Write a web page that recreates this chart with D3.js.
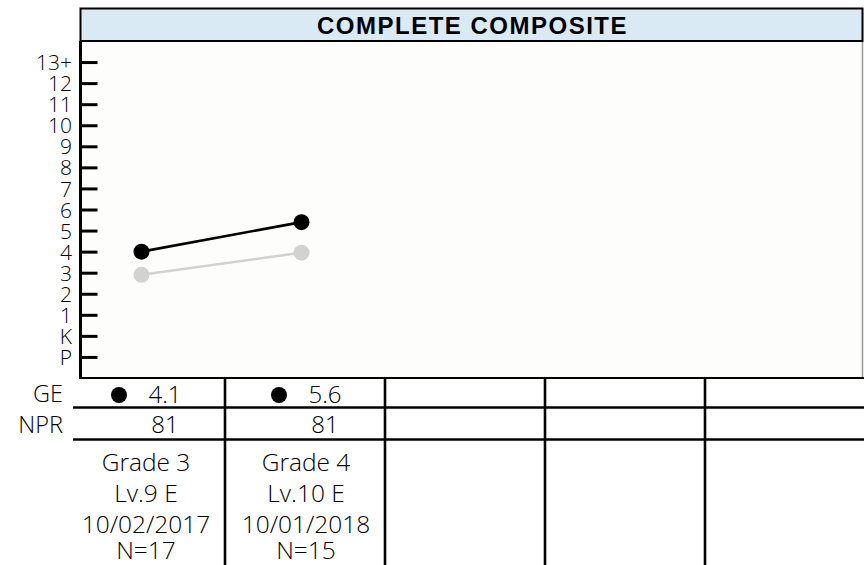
<!DOCTYPE html>
<html>
<head>
<meta charset="utf-8">
<script src="https://cdn.jsdelivr.net/npm/d3@7"></script>
<style>
  html, body { margin: 0; padding: 0; background: #ffffff; }
  svg { display: block; }
  text { font-family: "Open Sans", "Liberation Sans", Arial, sans-serif; font-weight: 350; fill: #000; }
</style>
</head>
<body>
<svg id="chart" width="864" height="565"></svg>
<script>
// ---------------- data ----------------
const chartTitle = "COMPLETE COMPOSITE";
const yTickLabels = ["P", "K", "1", "2", "3", "4", "5", "6", "7", "8", "9", "10", "11", "12", "13+"];
const yTickValues = [-1, 0, 1, 2, 3, 4, 5, 6, 7, 8, 9, 10, 11, 12, 13];
const columnSlots = [0, 1, 2, 3, 4];
const studentSeries = [4.0, 5.4];      // plotted positions (black)
const comparisonSeries = [2.9, 3.95];  // plotted positions (gray)
const geValues = ["4.1", "5.6"];
const nprValues = ["81", "81"];
const gradeLabels = ["Grade 3", "Grade 4"];
const levelLabels = ["Lv.9 E", "Lv.10 E"];
const dateLabels = ["10/02/2017", "10/01/2018"];
const countLabels = ["N=17", "N=15"];
const rowLabels = ["GE", "NPR"];

// ---------------- layout ----------------
const W = 864, H = 565;
const plotLeft = 80.5, plotRight = 862.5, titleTop = 8.5, titleBottom = 41, plotBottom = 378;
const svg = d3.select("#chart");

const x = d3.scaleBand().domain(columnSlots).range([65, 865]);
const y = d3.scaleLinear().domain([-2, 14]).range([plotBottom, titleBottom]);

// plot background
svg.append("rect").attr("x", plotLeft).attr("y", titleBottom)
  .attr("width", plotRight - plotLeft).attr("height", plotBottom - titleBottom)
  .attr("fill", "#fdfdfc");

// plot right border (gray)
svg.append("line").attr("x1", plotRight).attr("x2", plotRight)
  .attr("y1", titleBottom).attr("y2", plotBottom)
  .attr("stroke", "#9a9a9a").attr("stroke-width", 1.5);

// title box
svg.append("rect").attr("x", plotLeft).attr("y", titleTop)
  .attr("width", plotRight - plotLeft).attr("height", titleBottom - titleTop)
  .attr("fill", "#d9eaf5").attr("stroke", "#000").attr("stroke-width", 2);
svg.append("text").attr("x", (plotLeft + plotRight) / 2 + 1).attr("y", 33.5)
  .attr("text-anchor", "middle")
  .style("font-family", "'Liberation Sans', Arial, sans-serif")
  .style("font-weight", "bold").style("font-size", "24px").style("letter-spacing", "1.5px")
  .text(chartTitle);

// y axis
const yAxis = d3.axisLeft(y).tickValues(yTickValues)
  .tickFormat((d, i) => yTickLabels[i]).tickSize(-17).tickPadding(8.5);
const gy = svg.append("g").attr("transform", `translate(${plotLeft},0)`).call(yAxis);
gy.select(".domain").remove();
gy.selectAll(".tick line").attr("stroke", "#000").attr("stroke-width", 3);
gy.selectAll(".tick text").style("font-size", "21px").attr("fill", "#000")
  .style("font-family", "'Open Sans', 'Liberation Sans', Arial, sans-serif")
  .style("font-weight", "350").attr("dy", "0.36em");
svg.append("line").attr("x1", plotLeft).attr("x2", plotLeft)
  .attr("y1", titleBottom).attr("y2", plotBottom)
  .attr("stroke", "#000").attr("stroke-width", 3);

// plot bottom border
svg.append("line").attr("x1", plotLeft - 1.5).attr("x2", W)
  .attr("y1", plotBottom).attr("y2", plotBottom)
  .attr("stroke", "#000").attr("stroke-width", 2.2);

// series
const px = i => x(i) + x.bandwidth() / 2 - 3.5;
const line = d3.line().x((d, i) => px(i)).y(d => y(d));
function drawSeries(values, color) {
  svg.append("path").datum(values).attr("d", line)
    .attr("fill", "none").attr("stroke", color).attr("stroke-width", 2.6);
  svg.selectAll(null).data(values).enter().append("circle")
    .attr("cx", (d, i) => px(i)).attr("cy", d => y(d)).attr("r", 8).attr("fill", color);
}
drawSeries(comparisonSeries, "#d2d2d2");
drawSeries(studentSeries, "#000");

// ---------------- table ----------------
const rowTop = plotBottom, geBottom = 407.5, nprBottom = 439.5;
[geBottom, nprBottom].forEach(yy => {
  svg.append("line").attr("x1", 73).attr("x2", W).attr("y1", yy).attr("y2", yy)
    .attr("stroke", "#000").attr("stroke-width", 2.6);
});
columnSlots.slice(1).forEach(c => {
  svg.append("line").attr("x1", x(c)).attr("x2", x(c)).attr("y1", rowTop - 1).attr("y2", H)
    .attr("stroke", "#000").attr("stroke-width", 2.6);
});

// row labels
svg.append("text").attr("x", 63).attr("y", 402).attr("text-anchor", "end")
  .style("font-size", "23.5px").text(rowLabels[0]);
svg.append("text").attr("x", 63).attr("y", 433).attr("text-anchor", "end")
  .style("font-size", "23.5px").text(rowLabels[1]);

const cx = i => x(i) + x.bandwidth() / 2;
geValues.forEach((v, i) => {
  svg.append("circle").attr("cx", cx(i) - 26).attr("cy", 395).attr("r", 8).attr("fill", "#000");
  svg.append("text").attr("x", cx(i) + 20).attr("y", 402.5).attr("text-anchor", "middle")
    .style("font-size", "24px").text(v);
});
nprValues.forEach((v, i) => {
  svg.append("text").attr("x", cx(i) + 20).attr("y", 433).attr("text-anchor", "middle")
    .style("font-size", "24px").text(v);
});
const infoRows = [gradeLabels, levelLabels, dateLabels, countLabels];
const infoBaselines = [471, 502, 532.5, 558.5];
infoRows.forEach((row, r) => {
  row.forEach((v, i) => {
    svg.append("text").attr("x", cx(i) + 1).attr("y", infoBaselines[r]).attr("text-anchor", "middle")
      .style("font-size", "24.5px").text(v);
  });
});
</script>
</body>
</html>
